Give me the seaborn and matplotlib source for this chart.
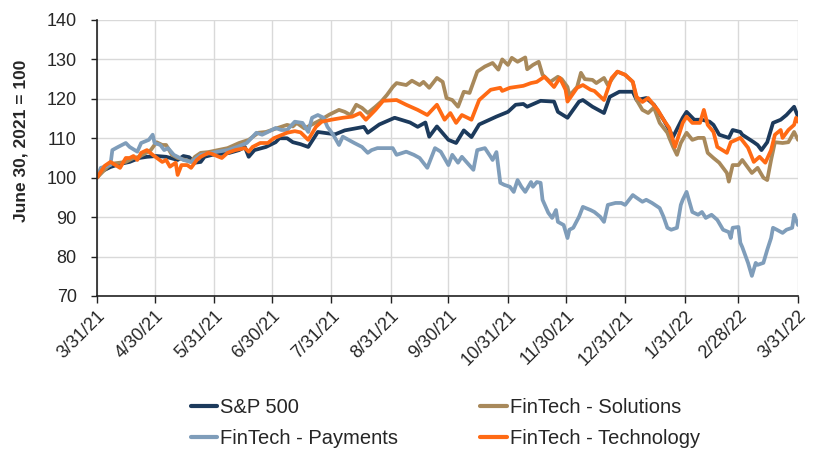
import pandas as pd
import matplotlib
matplotlib.use("Agg")
import matplotlib.pyplot as plt
import seaborn as sns

# dias desde 3/31/21 y valor del indice (June 30, 2021 = 100)
sp_days = [0, 2, 7, 12, 17, 22, 26, 31, 36, 42, 45, 48, 51, 54, 56, 60, 69, 74, 77, 79, 82, 88, 93, 95, 99, 102, 106, 110, 115, 121,
           124, 129, 139, 141, 147, 155, 163, 167, 171, 173, 177, 183, 187, 191, 195, 199, 208, 214, 218, 222, 224, 231, 238, 240, 245,
           251, 253, 258, 264, 267, 272, 279, 281, 286, 290, 295, 300, 305, 307, 311, 315, 319, 321, 324, 329, 331, 335, 336, 342, 344,
           346, 349, 352, 356, 359, 363, 365]
sp_vals = [100, 101.5, 102.7, 103.5, 104, 105, 105.3, 105.5, 105.3, 104.5, 105.5, 105.2, 103.8, 104, 105.3, 105.8, 106.3, 107, 107.8,
           105.3, 107, 107.8, 109, 110, 110, 109, 108.5, 107.8, 111.6, 111.2, 111, 112, 112.9, 111.4, 113.5, 115.2, 114, 112.9, 114,
           110.4, 113, 109.6, 108.8, 112, 110.3, 113.5, 115.5, 116.7, 118.5, 118.7, 118, 119.5, 119.3, 116.7, 115.2, 119.3, 119.7, 118,
           116.4, 120.5, 121.8, 121.8, 119.7, 120.2, 118.5, 114.7, 110.4, 115.2, 116.7, 114.7, 114.7, 114.2, 113.4, 110.9, 110.1, 112.1,
           111.6, 110.9, 109, 108.3, 107, 109, 113.9, 114.7, 115.9, 118, 115.5]

sol_days = [0, 7, 15, 19, 22, 28, 31, 34, 36, 39, 42, 46, 49, 51, 54, 58, 63, 68, 74, 79, 84, 88, 94, 99, 102, 104, 108, 114, 116, 121,
            126, 129, 132, 135, 138, 141, 145, 148, 151, 154, 156, 161, 164, 168, 170, 173, 177, 180, 182, 185, 188, 191, 194, 198, 202,
            206, 209, 211, 214, 216, 219, 223, 224, 227, 230, 232, 236, 240, 242, 245, 246, 250, 252, 254, 258, 260, 264, 266, 269, 271,
            275, 279, 281, 284, 287, 290, 293, 297, 298, 300, 302, 304, 307, 310, 313, 316, 318, 321, 324, 328, 329, 331, 334, 336, 341,
            344, 347, 349, 351, 353, 357, 360, 363, 365]
sol_vals = [100, 103.5, 104, 105, 105.3, 107, 109, 108.3, 108.3, 105.8, 105, 104.5, 104, 105.3, 106.3, 106.5, 107, 107.5, 108.8, 109.6,
            111.4, 111.6, 112.6, 113.4, 113, 113.9, 112.5, 114, 114.5, 116, 117.2, 116.7, 115.9, 118.5, 117.7, 116.4, 118, 119.3, 121,
            123, 124, 123.5, 124.6, 123.5, 124.3, 122.8, 125.3, 124.3, 120.2, 119.7, 118, 121.8, 121.5, 126.9, 128.2, 129.1, 127.4, 130,
            128.6, 130.4, 129.4, 130.5, 127.5, 128.6, 129.4, 126.1, 124.3, 125.6, 125, 123, 120.8, 123, 126.6, 125, 124.8, 124, 125.3,
            123.5, 125.6, 126.9, 126.1, 124.3, 119.7, 117.2, 116.4, 117.8, 113.9, 111.4, 110.1, 107.8, 105.8, 108.8, 111.4, 109.6, 110.1,
            110.1, 106.3, 105, 103.8, 101.2, 99, 103.2, 103.2, 104.5, 101.2, 102.5, 100, 99.4, 104.5, 109, 108.8, 109, 111.6, 109.6]

pay_days = [0, 2, 7, 8, 11, 15, 17, 21, 23, 27, 29, 30, 33, 35, 37, 40, 42, 45, 49, 54, 60, 63, 68, 73, 78, 83, 86, 89, 93, 96,
            99, 103, 107, 110, 112, 115, 118, 120, 123, 126, 128, 131, 134, 138, 141, 143, 146, 149, 154, 156, 161, 165, 168, 172, 176,
            179, 183, 185, 188, 190, 196, 198, 202, 205, 206, 208, 210, 212, 215, 217, 219, 221, 223, 226, 227, 229, 231, 232, 235, 237,
            239, 240, 243, 245, 246, 248, 251, 253, 257, 259, 262, 264, 266, 270, 273, 275, 279, 281, 284, 286, 289, 293, 295, 297, 299,
            302, 304, 305, 307, 310, 313, 315, 317, 320, 323, 326, 329, 330, 331, 334, 335, 336, 339, 341, 343, 344, 347, 349, 351, 352,
            354, 357, 359, 362, 363, 365]
pay_vals = [100, 102.5, 103.2, 107, 107.8, 108.8, 107.8, 106.6, 108.8, 109.6, 110.9, 108.8, 108.3, 107, 107.5, 105.8, 105.3, 104.5,
            104, 105.8, 106.3, 106.6, 107, 107.8, 108.8, 111.4, 110.9, 111.6, 112.6, 112.1, 112.1, 114.2, 113.9, 111.6, 115.2, 115.9,
            115.2, 112.9, 110.9, 108.3, 110.4, 109.6, 108.8, 107.8, 106.3, 107, 107.5, 107.5, 107.5, 105.8, 106.6, 105.8, 105, 102.5,
            107.5, 106.6, 103.2, 105.8, 103.8, 105.3, 102, 107, 107.5, 105.3, 104.5, 106.5, 98.7, 98.2, 97.7, 96.4, 99.4, 97.7, 96.4,
            98.9, 97.7, 98.9, 98.7, 94.4, 91.1, 89.8, 91.8, 88.8, 88, 84.7, 86.8, 87.3, 90.1, 92.6, 91.8, 91.3, 90.1, 88.8, 93.1, 93.6,
            93.6, 93.1, 95.6, 94.9, 93.9, 94.4, 93.6, 92.3, 90.1, 87.3, 86.8, 87.3, 93.1, 94.4, 96.4, 91.3, 90.6, 91.3, 89.8, 90.6, 89.3,
            86.8, 86.2, 84.7, 87.3, 87.5, 83.5, 82.4, 78.4, 75.1, 78.4, 77.9, 78.4, 81.7, 84.7, 87.3, 86.8, 86, 86.8, 87.3, 90.6, 88]

tech_days = [0, 2, 4, 7, 12, 15, 17, 19, 21, 23, 26, 29, 34, 36, 38, 41, 42, 44, 47, 49, 52, 54, 58, 60, 65, 68, 72, 77, 79, 81,
             85, 89, 92, 94, 99, 103, 106, 110, 114, 117, 122, 128, 133, 137, 140, 145, 149, 156, 161, 167, 172, 177, 181, 184, 187,
             190, 195, 199, 205, 210, 211, 215, 222, 226, 229, 233, 238, 241, 244, 245, 250, 253, 257, 259, 264, 268, 271, 275, 279, 281,
             284, 287, 292, 295, 298, 301, 305, 307, 310, 314, 316, 318, 321, 323, 328, 330, 335, 339, 342, 345, 348, 351, 353, 356, 357,
             360, 363, 364, 365]
tech_vals = [100, 101.5, 103, 104, 102.5, 105, 105, 105.5, 104.5, 106.3, 107, 105.8, 104, 104.5, 102.8, 103.8, 100.7, 103.2, 103.2,
             102.5, 104.5, 105.3, 106.3, 106, 105, 106.3, 107, 107.5, 106.6, 107.8, 108.8, 108.8, 110, 110.4, 111.4, 111.8, 111.5,
             109.6, 112.9, 114.2, 114.7, 115.2, 115.5, 116.4, 114.7, 117.2, 119.5, 119.7, 118.5, 117.2, 115.9, 118.5, 114.7, 116.4,
             113.9, 115.9, 114.7, 119.7, 122.3, 122.8, 122, 122.8, 123.3, 124, 124.3, 125.6, 123, 125.3, 122.3, 119.3, 122.8, 123.5,
             122.3, 122, 119.7, 125.3, 126.9, 126.1, 124.3, 120.5, 119.2, 120.2, 117.2, 114.7, 112.6, 107.8, 113.9, 115.5, 113.9, 113.9,
             117.2, 113.4, 111.6, 107.8, 106.3, 109, 110.1, 107.6, 104, 105.3, 103.8, 107, 110.9, 112.1, 110.1, 112.1, 113.4, 115.2, 114.2]

series_names = ["S&P 500", "FinTech - Solutions", "FinTech - Payments", "FinTech - Technology"]
series_colors = ["#1C3A5C", "#A8895B", "#7F9DBA", "#FF6A14"]

base = pd.Timestamp("2021-03-31")
frames = []
for name, d, v in zip(series_names,
                      [sp_days, sol_days, pay_days, tech_days],
                      [sp_vals, sol_vals, pay_vals, tech_vals]):
    frames.append(pd.DataFrame({"fecha": base + pd.to_timedelta(d, unit="D"), "valor": v, "serie": name}))
df = pd.concat(frames, ignore_index=True)

sns.set_theme(style="white")
plt.rcParams["font.family"] = ["Liberation Sans", "DejaVu Sans"]

fig = plt.figure(figsize=(8.17, 4.51), dpi=100)
ax = fig.add_axes([0.1187, 0.3437, 0.858, 0.612])

sns.lineplot(data=df, x="fecha", y="valor", hue="serie", hue_order=series_names,
             palette=series_colors, estimator=None, linewidth=2.7, ax=ax, legend=False)

ticks = pd.date_range("2021-03-31", "2022-03-31", freq="ME")
ax.set_xticks(ticks)
ax.set_xticklabels([f"{t.month}/{t.day}/{t:%y}" for t in ticks], rotation=45, ha="right",
                   rotation_mode="anchor", fontsize=13)
ax.set_xlim(ticks[0], ticks[-1])
ax.set_ylim(70, 140)
ax.set_yticks(range(70, 141, 10))
ax.tick_params(axis="y", labelsize=13, length=4.5, width=1, color="#222222", direction="out", left=True, pad=10)
ax.tick_params(axis="x", length=5, width=1, color="#222222", direction="out", bottom=True, pad=3)
ax.grid(True, color="#D9D9D9", linewidth=1)
ax.set_axisbelow(True)
for s in ["top", "right"]:
    ax.spines[s].set_visible(False)
for s in ["left", "bottom"]:
    ax.spines[s].set_color("#222222")
    ax.spines[s].set_linewidth(1.2)
ax.set_xlabel("")
ax.set_ylabel("June 30, 2021 = 100", fontsize=12.5, fontweight="bold")
ax.yaxis.set_label_coords(-0.097, 0.562)

handles = {n: plt.Line2D([], [], color=c, linewidth=3) for n, c in zip(series_names, series_colors)}
order = ["S&P 500", "FinTech - Payments", "FinTech - Solutions", "FinTech - Technology"]
fig.legend([handles[n] for n in order], order, loc="center", bbox_to_anchor=(0.545, 0.062),
           ncol=2, frameon=False, fontsize=14.5, handlelength=1.3, handletextpad=0.15,
           columnspacing=4.1, labelspacing=0.6)

fig.savefig("out.png", dpi=100)
plt.close(fig)
